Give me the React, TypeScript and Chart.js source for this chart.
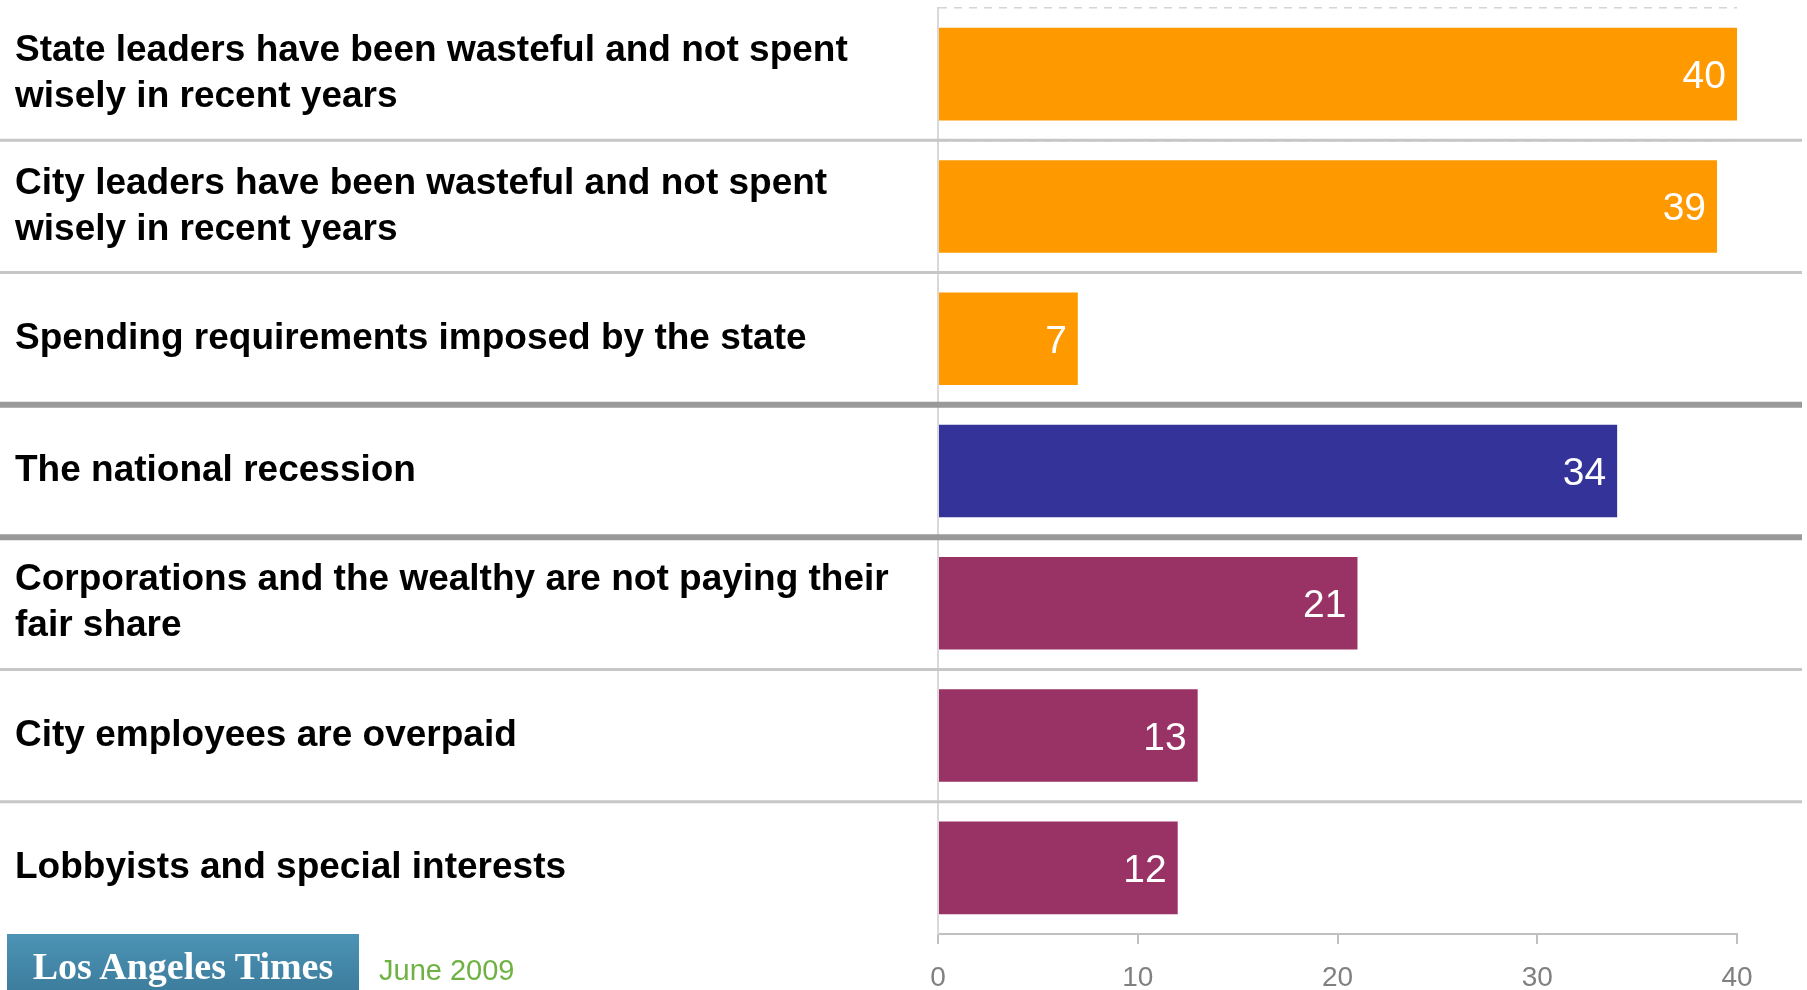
import React, { useEffect, useRef } from 'react';
import { Chart, registerables } from 'chart.js';

Chart.register(...registerables);

// ---- Data ----
const categories: (string | string[])[] = [
  ['State leaders have been wasteful and not spent', 'wisely in recent years'],
  ['City leaders have been wasteful and not spent', 'wisely in recent years'],
  'Spending requirements imposed by the state',
  'The national recession',
  ['Corporations and the wealthy are not paying their', 'fair share'],
  'City employees are overpaid',
  'Lobbyists and special interests',
];
const values = [40, 39, 7, 34, 21, 13, 12];
const groups = ['government', 'government', 'government', 'economy', 'other', 'other', 'other'];
const xTicks = [0, 10, 20, 30, 40];
const sourceLabel = 'Los Angeles Times';
const dateLabel = 'June 2009';

// ---- Styles ----
const groupColors: Record<string, string> = {
  government: '#FF9900',
  economy: '#333399',
  other: '#993366',
};
const SANS = '"Liberation Sans", Arial, sans-serif';
const SERIF = '"Liberation Serif", "Times New Roman", serif';
const W = 1807;
const H = 990;

const separatorPlugin = {
  id: 'rowSeparators',
  beforeDatasetsDraw(chart: any) {
    const y = chart.scales.y;
    const ctx = chart.ctx;
    for (let i = 0; i < categories.length - 1; i++) {
      const b = (y.getPixelForValue(i) + y.getPixelForValue(i + 1)) / 2;
      const thick = groups[i] !== groups[i + 1];
      ctx.save();
      ctx.strokeStyle = thick ? '#999999' : '#c6c6c6';
      ctx.lineWidth = thick ? 6 : 3;
      ctx.beginPath();
      ctx.moveTo(0, b);
      ctx.lineTo(chart.width - 5, b);
      ctx.stroke();
      ctx.restore();
    }
  },
};

const valueLabelPlugin = {
  id: 'valueLabels',
  afterDatasetsDraw(chart: any) {
    const ctx = chart.ctx;
    const meta = chart.getDatasetMeta(0);
    const size = 39;
    ctx.save();
    ctx.fillStyle = '#ffffff';
    ctx.font = `${size}px ${SANS}`;
    ctx.textAlign = 'right';
    ctx.textBaseline = 'alphabetic';
    meta.data.forEach((bar: any, i: number) => {
      ctx.fillText(String(values[i]), bar.x - 11, bar.y + size * 0.358);
    });
    ctx.restore();
  },
};

export default function App() {
  const canvasRef = useRef<HTMLCanvasElement | null>(null);

  useEffect(() => {
    document.body.style.margin = '0';
    document.body.style.overflow = 'hidden';
    const canvas = canvasRef.current;
    if (!canvas) return;
    const chart = new Chart(canvas, {
      type: 'bar',
      data: {
        labels: categories as any,
        datasets: [
          {
            data: values,
            backgroundColor: groups.map((g) => groupColors[g]),
            borderWidth: 0,
            barPercentage: 0.7,
            categoryPercentage: 1,
          },
        ],
      },
      options: {
        indexAxis: 'y',
        responsive: false,
        animation: false,
        devicePixelRatio: 1,
        layout: { padding: { left: 15, right: 70, top: 8, bottom: 0 } },
        plugins: {
          legend: { display: false },
          tooltip: { enabled: false },
        },
        scales: {
          x: {
            type: 'linear',
            position: 'bottom',
            min: xTicks[0],
            max: xTicks[xTicks.length - 1],
            afterBuildTicks: (s: any) => {
              s.ticks = xTicks.map((v) => ({ value: v }));
            },
            afterFit: (s: any) => {
              s.height = 56;
            },
            grid: {
              drawOnChartArea: false,
              drawTicks: true,
              tickLength: 10,
              color: '#c0c0c0',
              lineWidth: 2,
            },
            border: { display: true, color: '#c0c0c0', width: 2 },
            ticks: {
              color: '#808080',
              font: { family: SANS, size: 28 },
              padding: 17,
              maxRotation: 0,
              autoSkip: false,
            },
          },
          y: {
            type: 'category',
            afterFit: (s: any) => {
              s.width = 923;
              s.paddingTop = 0;
              s.paddingBottom = 0;
            },
            grid: {
              offset: true,
              drawTicks: false,
              color: '#d4d4d4',
              lineWidth: 1.5,
            },
            border: { display: true, color: '#d9d9d9', width: 2, dash: [8, 7] },
            ticks: {
              crossAlign: 'far',
              padding: 0,
              color: '#000000',
              autoSkip: false,
              font: { family: SANS, size: 37, weight: 'bold', lineHeight: 1.243 },
            },
          },
        },
      } as any,
      plugins: [separatorPlugin, valueLabelPlugin],
    });
    return () => chart.destroy();
  }, []);

  return (
    <div style={{ position: 'relative', width: W, height: H, overflow: 'hidden', background: '#ffffff' }}>
      <canvas ref={canvasRef} width={W} height={H} style={{ display: 'block', width: W, height: H }} />
      <div
        style={{
          position: 'absolute',
          left: 7,
          top: 934,
          width: 352,
          height: 56,
          background: 'linear-gradient(#4c93b5, #3d7d9d)',
          color: '#ffffff',
          fontFamily: SERIF,
          fontWeight: 'bold',
          fontSize: 38,
          lineHeight: '56px',
          textAlign: 'center',
          whiteSpace: 'nowrap',
        }}
      >
        <span style={{ position: 'relative', top: 4 }}>{sourceLabel}</span>
      </div>
      <div
        style={{
          position: 'absolute',
          left: 379,
          top: 953,
          fontFamily: SANS,
          fontSize: 29,
          lineHeight: '34px',
          color: '#6fb243',
          whiteSpace: 'nowrap',
        }}
      >
        {dateLabel}
      </div>
    </div>
  );
}
